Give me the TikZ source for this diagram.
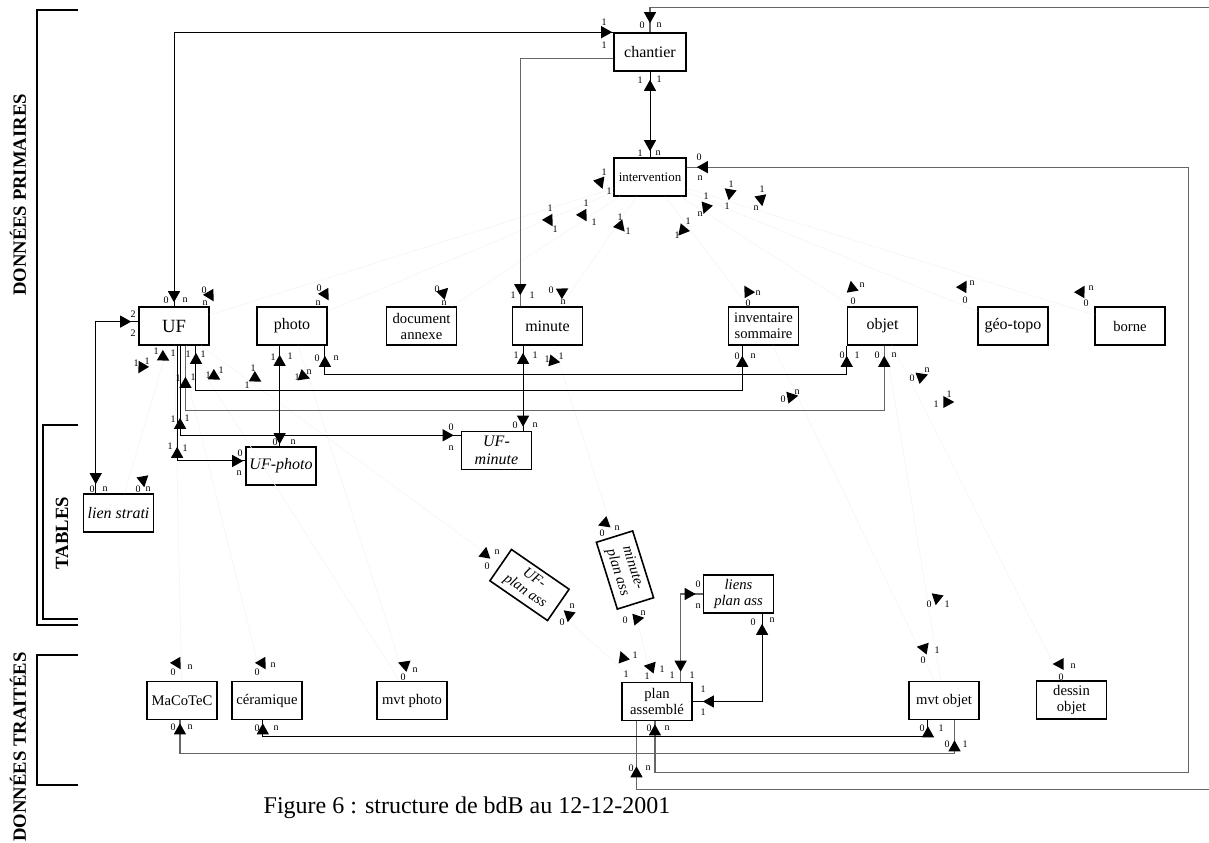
\documentclass[tikz,border=0pt]{standalone}
\usepackage{fontspec}
\setmainfont{Liberation Serif}
\usetikzlibrary{arrows.meta,decorations.markings}
\newcounter{cardc}
\newcommand\card[3]{\stepcounter{cardc}\edef\cardname{k\arabic{cardc}}\node[card] (\cardname) at (#1,#2) {#3};}
\newcommand\fa[3]{\pic[rotate=#3] at (#1,#2) {ah};}
\tikzset{
  tipT/.tip={Triangle[length=8.25pt,width=9pt]},
  ah/.pic={\fill[black] (5.5pt,0pt) -- (-2.75pt,4.5pt) -- (-2.75pt,-4.5pt) -- cycle;},
  ends/.style 2 args={postaction={decorate,decoration={markings,
      mark=at position #1 with {\arrowreversed[black]{tipT}},
      mark=at position -#2 with {\arrow[black]{tipT}}}}},
  endarr/.style={postaction={decorate,decoration={markings,
      mark=at position -#1 with {\arrow[black]{tipT}}}}},
}
\begin{document}
\begin{tikzpicture}[x=0.75pt,y=-0.75pt,
  box/.style={draw, line width=1.2pt, inner sep=1pt, minimum width=52.5pt, minimum height=28.5pt, align=center, font=\fontsize{12}{13}\selectfont},
  sbox/.style={box, font=\fontsize{11}{12}\selectfont},
  tbox/.style={box, font=\itshape\fontsize{12}{13.5}\selectfont},
  stbox/.style={box, font=\itshape\fontsize{11}{12}\selectfont},
  card/.style={inner sep=0pt, font=\fontsize{7.5}{8}\selectfont},
  conn/.style={draw=black, line width=0.75pt},
  gconn/.style={draw=black!60, line width=0.9pt},
  faint/.style={draw=black!4, line width=0.5pt},
  bracket/.style={draw=black, line width=1.4pt},
  side/.style={rotate=90, font=\bfseries\fontsize{14}{16}\selectfont, inner sep=0pt},
]
\useasboundingbox (0,0) rectangle (1209,842);

% ---------- section brackets and labels
\draw[bracket] (78,10) -- (37,10) -- (37,625) -- (78,625);
\draw[bracket] (78,425) -- (43,425) -- (43,619) -- (78,619);
\draw[bracket] (78,655) -- (37,655) -- (37,785) -- (78,785);
\node[side] (sPrim) at (18,195) {DONNÉES PRIMAIRES};
\node[side] (sTab) at (62,533) {TABLES};
\node[side] (sTrait) at (18,747) {DONNÉES TRAITÉES};
\node[font=\fontsize{18}{20}\selectfont, inner sep=0pt] (caption) at (467,808) {Figure 6 : structure de bdB au 12-12-2001};

% ---------- entities
\node[box, minimum width=54pt] (chantier) at (650,52) {chantier};
\node[box, minimum width=54pt, font=\fontsize{9.7}{11}\selectfont] (intervention) at (650,177) {intervention};
\node[box, font=\fontsize{14}{15}\selectfont] (UF) at (174,326) {UF};
\node[box] (photo) at (292,326) {photo};
\node[sbox] (docann) at (421.5,326) {document\\annexe};
\node[box] (minute) at (547.5,326) {minute};
\node[sbox] (inv) at (763.5,326) {inventaire\\sommaire};
\node[box] (objet) at (882.5,326) {objet};
\node[box] (geotopo) at (1013,326) {géo-topo};
\node[sbox] (borne) at (1130,326) {borne};
\node[tbox] (ufphoto) at (281,466) {UF-photo};
\node[tbox] (ufminute) at (496.5,450.5) {UF-\\minute};
\node[tbox] (lienstrati) at (118.5,513) {lien strati};
\node[stbox, rotate=-34.6] (ufplan) at (529.5,585) {UF-\\plan ass};
\node[stbox, rotate=-72.6] (minplan) at (625,570) {minute-\\plan ass};
\node[stbox] (liensplan) at (738.5,594) {liens\\plan ass};
\node[sbox] (macotec) at (182,700.5) {MaCoTeC};
\node[sbox] (ceram) at (267,700.5) {céramique};
\node[sbox] (mvtphoto) at (412,700.5) {mvt photo};
\node[sbox] (planass) at (657,701.5) {plan\\assemblé};
\node[sbox] (mvtobjet) at (944,700.5) {mvt objet};
\node[sbox] (dessin) at (1071.5,700) {dessin\\objet};

% ---------- faint links
\foreach \t in {UF,photo,docann,minute,inv,objet,geotopo,borne}
  \draw[faint] (intervention) -- (\t);
\draw[faint] (UF) -- (macotec);
\draw[faint] (UF) -- (ceram);
\draw[faint] (UF) -- (ufplan);
\draw[faint] (UF) -- (lienstrati);
\draw[faint] (UF) -- (mvtphoto);
\draw[faint] (photo) -- (mvtphoto);
\draw[faint] (minute) -- (minplan);
\draw[faint] (ufplan) -- (planass);
\draw[faint] (minplan) -- (planass);
\draw[faint] (inv) -- (mvtobjet);
\draw[faint] (objet) -- (mvtobjet);
\draw[faint] (objet) -- (dessin);

% ---------- main links
\draw[conn, ends={3pt}{0.75pt}] (UF.north) |- (chantier.north west);
\draw[conn, ends={6pt}{4.5pt}] (chantier.south) -- (intervention.north);
\draw[gconn, endarr=8.25pt] (chantier.190) -| (minute.144);
\draw[gconn, ends={33.75pt}{6.75pt}] (planass.224) -- ++(0,68) -- ++(600,0) -- ++(0,-782) -| (chantier.north);
\draw[gconn, ends={7.5pt}{2.25pt}] (intervention.15.5) -- ++(502,0) -- ++(0,605) -| (planass.264);
\draw[conn, ends={6.75pt}{5.25pt}] (lienstrati.139) |- (UF.173.5);
\draw[conn, ends={5.25pt}{7.5pt}] (UF.318) -- ++(0,45) -| (inv.223);
\draw[conn, ends={7.5pt}{7.5pt}] (photo.329) -- ++(0,29) -| (objet.south west);
\draw[gconn, ends={23.25pt}{7.5pt}] (UF.300) -- ++(0,65) -| (objet.275);
\draw[conn, ends={54pt}{5.25pt}] (UF.287.5) |- (ufminute.157);
\draw[conn, ends={75.75pt}{1.5pt}] (UF.279) |- (ufphoto.172);
\draw[conn, ends={6.75pt}{1.5pt}] (photo.238) -- (photo.238 |- ufphoto.north);
\draw[conn, ends={5.25pt}{3pt}] (minute.219) -- (minute.219 |- ufminute.north);
\draw[gconn, ends={7.5pt}{5.25pt}] (planass.40) |- (liensplan.west);
\draw[conn, ends={7.5pt}{7.5pt}] (liensplan.320) |- (planass.east);
\draw[gconn, ends={2.25pt}{15pt}] (macotec.264) -- ++(0,33) -| (mvtobjet.298);
\draw[conn, ends={2.25pt}{4.5pt}] (ceram.258) -- ++(0,16) -| (mvtobjet.231);

% ---------- cardinalities of main links
\card{604}{22}{1}\card{604}{45}{1}\card{166}{300}{0}\card{185}{300}{n}
\card{640}{80}{1}\card{659}{79}{1}\card{640}{153}{1}\card{658}{153}{n}
\card{513}{295}{1}\card{532}{295}{1}
\card{642}{25}{0}\card{659}{25}{n}\card{631}{768}{0}\card{648}{768}{n}
\card{699}{157}{0}\card{700}{178}{n}\card{649}{728}{0}\card{667}{728}{n}
\card{133}{314}{2}\card{133}{333}{2}\card{92}{489}{0}\card{105}{489}{n}
\card{188}{354}{1}\card{203}{354}{1}\card{737}{356}{0}\card{753}{356}{n}
\card{317}{358}{0}\card{336}{358}{n}\card{842}{355}{0}\card{857}{355}{1}
\card{178}{378}{1}\card{193}{377}{1}\card{877}{355}{0}\card{894}{355}{n}
\card{173}{419}{1}\card{187}{418}{1}\card{451}{427}{0}\card{451}{448}{n}
\card{170}{446}{1}\card{185}{448}{1}\card{240}{453}{0}\card{239}{473}{n}
\card{273}{357}{1}\card{290}{356}{1}\card{275}{442}{0}\card{293}{442}{n}
\card{516}{355}{1}\card{535}{355}{1}\card{515}{425}{0}\card{535}{425}{n}
\card{672}{675}{1}\card{692}{675}{1}\card{698}{584}{0}\card{698}{606}{n}
\card{753}{622}{0}\card{772}{620}{n}\card{703}{689}{1}\card{703}{712}{1}
\card{173}{727}{0}\card{190}{727}{n}\card{947}{744}{0}\card{965}{744}{1}
\card{257}{728}{0}\card{276}{728}{n}\card{922}{728}{0}\card{941}{728}{1}

% ---------- floating arrowheads of faint links with cardinalities
\fa{600}{182}{-70}\card{604}{172}{1}\card{609}{191}{1}
\fa{549}{220}{-60}\card{550}{208}{1}\card{555}{229}{1}
\fa{583}{215}{-60}\card{586}{203}{1}\card{594}{222}{1}
\fa{620}{226}{-50}\card{620}{217}{1}\card{628}{231}{1}
\fa{683}{230}{-130}\card{688}{221}{1}\card{677}{235}{1}
\fa{706}{207}{-110}\card{706}{196}{1}\card{700}{214}{n}
\fa{730}{193}{-100}\card{731}{184}{1}\card{727}{206}{1}
\fa{761}{199}{-80}\card{762}{189}{1}\card{756}{208}{n}
\fa{210}{295}{-60}\card{204}{290}{0}\card{205}{303}{n}
\fa{325}{294}{-60}\card{319}{288}{0}\card{318}{303}{n}
\fa{443}{293}{45}\card{437}{289}{0}\card{444}{303}{n}
\fa{562}{292}{30}\card{551}{290}{0}\card{563}{302}{n}
\fa{748}{292}{120}\card{758}{293}{n}\card{748}{303}{0}
\fa{852}{288}{100}\card{862}{285}{n}\card{853}{301}{0}
\fa{963}{287}{60}\card{972}{283}{n}\card{965}{300}{0}
\fa{1081}{292}{60}\card{1091}{288}{n}\card{1086}{303}{0}
\fa{142}{367}{-120}\card{136}{363}{1}\card{147}{361}{1}
\fa{163}{357}{-30}\card{156}{351}{1}\card{173}{353}{1}
\fa{214}{376}{-30}\card{208}{375}{1}\card{221}{370}{1}
\fa{255}{378}{-30}\card{253}{368}{1}\card{247}{385}{1}
\fa{303}{376}{-20}\card{297}{377}{1}\card{309}{372}{n}
\fa{143}{480}{-80}\card{138}{489}{0}\card{148}{489}{n}
\fa{553}{361}{-10}\card{547}{359}{1}\card{561}{356}{1}
\fa{791}{397}{10}\card{783}{399}{0}\card{797}{392}{n}
\fa{921}{377}{20}\card{912}{378}{0}\card{927}{370}{n}
\fa{947}{402}{0}\card{936}{404}{1}\card{949}{394}{1}
\fa{177}{663}{-60}\card{173}{672}{0}\card{190}{667}{n}
\fa{262}{663}{-60}\card{257}{672}{0}\card{273}{665}{n}
\fa{405}{665}{160}\card{403}{677}{0}\card{415}{670}{n}
\fa{485}{554}{80}\card{497}{552}{n}\card{487}{566}{0}
\fa{569}{615}{-100}\card{572}{606}{n}\card{562}{622}{0}
\fa{605}{523}{200}\card{602}{533}{0}\card{617}{528}{n}
\fa{637}{619}{10}\card{625}{620}{0}\card{643}{613}{n}
\fa{623}{658}{110}\card{635}{655}{1}\card{626}{674}{1}
\fa{651}{667}{170}\card{662}{669}{1}\card{647}{676}{1}
\fa{937}{598}{-100}\card{929}{604}{0}\card{947}{604}{1}
\fa{924}{648}{170}\card{937}{650}{1}\card{923}{660}{0}
\fa{1060}{664}{180}\card{1073}{666}{n}\card{1061}{677}{0}
\end{tikzpicture}
\end{document}
